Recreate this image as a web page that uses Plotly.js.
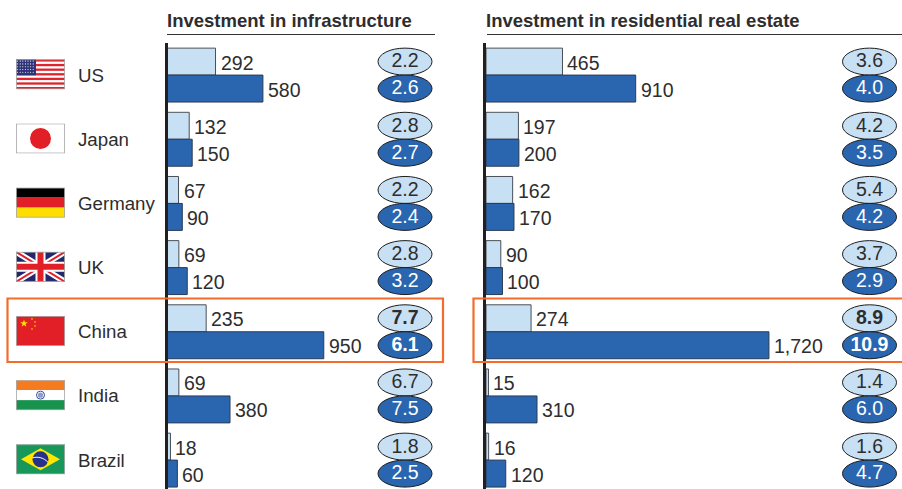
<!DOCTYPE html>
<html><head><meta charset="utf-8">
<script src="https://cdn.plot.ly/plotly-3.0.1.min.js"></script>
<style>html,body{margin:0;padding:0;background:#fff;overflow:hidden}</style></head>
<body><div id="chart" style="width:902px;height:489px"></div>
<script>
const countries = ['US','Japan','Germany','UK','China','India','Brazil'];
const infraStock = [292,132,67,69,235,69,18];
const infraNeed = [580,150,90,120,950,380,60];
const infraStockPct = ['2.2','2.8','2.2','2.8','7.7','6.7','1.8'];
const infraNeedPct = ['2.6','2.7','2.4','3.2','6.1','7.5','2.5'];
const homeStock = [465,197,162,90,274,15,16];
const homeNeed = [910,200,170,100,1720,310,120];
const homeStockPct = ['3.6','4.2','5.4','3.7','8.9','1.4','1.6'];
const homeNeedPct = ['4.0','3.5','4.2','2.9','10.9','6.0','4.7'];
const panelTitles = ['Investment in infrastructure','Investment in residential real estate'];

const W=902,H=489, LIGHT='#c8e0f4', DARK='#2a66b0', INK='#2e2d2e';
const FONT='"Liberation Sans", Arial, sans-serif';
const pxPerUnit=0.1645, topPx=43, rowPx=64.17;
const rows=countries.map((_,i)=>i);
const yRange=[(H-topPx)/rowPx-0.5,-0.5];
const OFF=0.21, TXT=1/rowPx;
const up=rows.map(r=>r-OFF), dn=rows.map(r=>r+OFF);
const hl=countries.indexOf('China');

function panel(xa,ya,light,dark,lp,dp,ovalX){
  const s={xaxis:xa,yaxis:ya};
  const bar=(vals,y,fill,line)=>({type:'bar',orientation:'h',x:vals,y:y,width:0.42,
    marker:{color:fill,line:{color:line,width:1}},hoverinfo:'skip',...s});
  const txt=(vals,y,col)=>({type:'scatter',mode:'text',x:vals.map(()=>ovalX),y:y.map(v=>v+TXT),
    text:vals.map((v,i)=>i===hl?'<b>'+v+'</b>':v),textposition:'middle center',
    textfont:{family:FONT,size:19.5,color:col},hoverinfo:'skip',cliponaxis:false,...s});
  return [bar(light,up,LIGHT,'#4a4f57'),bar(dark,dn,DARK,'#2c3a55'),txt(lp,up,INK),txt(dp,dn,'#ffffff')];
}
const oval1=237.5/pxPerUnit, oval2=383.5/pxPerUnit;
const traces=[...panel('x','y',infraStock,infraNeed,infraStockPct,infraNeedPct,oval1),
              ...panel('x2','y2',homeStock,homeNeed,homeStockPct,homeNeedPct,oval2)];

function ovals(xr,yr,cx){
  const out=[];
  rows.forEach(r=>{[[r-OFF,LIGHT],[r+OFF,DARK]].forEach(([y,c])=>{
    out.push({type:'circle',layer:'below',xref:xr,yref:yr,xsizemode:'pixel',ysizemode:'pixel',
      xanchor:cx,yanchor:y,x0:-27,x1:27,y0:-13.5,y1:13.5,fillcolor:c,line:{color:'#1d1d1f',width:1}});
  });});
  return out;
}
const rule=(x0,x1)=>({type:'line',xref:'paper',yref:'paper',x0:x0/W,x1:x1/W,y0:1-34.5/H,y1:1-34.5/H,line:{color:'#333',width:1}});
const box=(x0,x1)=>({type:'rect',xref:'paper',yref:'paper',x0:x0/W,x1:x1/W,y0:1-298.5/H,y1:1-362/H,line:{color:'#f26d2d',width:2.2},fillcolor:'rgba(0,0,0,0)',layer:'above'});
const shapes=[...ovals('x','y',oval1),...ovals('x2','y2',oval2),rule(167,435),rule(487,902),box(7.5,443),box(473.5,908)];

const barLabels=(vals,ys,xr,yr)=>vals.map((v,i)=>({text:v.toLocaleString('en-US'),xref:xr,yref:yr,x:v,y:ys[i],xanchor:'left',yanchor:'middle',
   xshift:3,yshift:-1,showarrow:false,font:{family:FONT,size:19.5,color:INK}}));
const annotations=[
 ...panelTitles.map((t,i)=>({text:'<b>'+t+'</b>',xref:'paper',yref:'paper',x:(i?483.5:164.5)/W,y:1-21/H,xanchor:'left',yanchor:'middle',showarrow:false,
   font:{family:FONT,size:18.5,color:INK}})),
 ...countries.map((c,i)=>({text:c,xref:'paper',yref:'y',x:76/W,y:i,xanchor:'left',yanchor:'middle',showarrow:false,
   font:{family:FONT,size:18.7,color:INK}})),
 ...barLabels(infraStock,up,'x','y'),...barLabels(infraNeed,dn,'x','y'),
 ...barLabels(homeStock,up,'x2','y2'),...barLabels(homeNeed,dn,'x2','y2')
];

const svg=(body)=>'data:image/svg+xml;charset=utf-8,'+encodeURIComponent('<svg xmlns="http://www.w3.org/2000/svg" width="196" height="120" viewBox="0 0 49 30">'+body+'<rect x="0.4" y="0.4" width="48.2" height="29.2" fill="none" stroke="#aaaaaa" stroke-width="0.9"/></svg>');
let usStripes='';for(let i=0;i<7;i++)usStripes+=`<rect x="0" y="${(i*2*30/13).toFixed(2)}" width="49" height="${(30/13).toFixed(2)}" fill="#e0242f"/>`;
let usStars='';for(let j=0;j<5;j++)for(let i=0;i<7;i++)usStars+=`<circle cx="${1.6+i*2.6}" cy="${1.8+j*2.8}" r="0.55" fill="#fff"/>`;
const star=(x,y,r)=>{let p=[];for(let k=0;k<10;k++){const a=-Math.PI/2+k*Math.PI/5,q=k%2?r*0.4:r;p.push((x+q*Math.cos(a)).toFixed(2)+','+(y+q*Math.sin(a)).toFixed(2));}return `<polygon points="${p.join(' ')}" fill="#ffde00"/>`;};
const flagArt={
 US:'<rect width="49" height="30" fill="#fff"/>'+usStripes+'<rect width="20" height="16" fill="#2e3278"/>'+usStars,
 Japan:'<rect width="49" height="30" fill="#fff"/><circle cx="24.5" cy="15" r="10.5" fill="#e21e26"/>',
 Germany:'<rect width="49" height="10" fill="#000"/><rect y="10" width="49" height="10" fill="#e21e26"/><rect y="20" width="49" height="10" fill="#ffdd00"/>',
 UK:'<rect width="49" height="30" fill="#23286e"/><path d="M0 0L49 30M49 0L0 30" stroke="#fff" stroke-width="6"/><path d="M0 0L49 30M49 0L0 30" stroke="#e21e26" stroke-width="2"/><path d="M24.5 0V30M0 15H49" stroke="#fff" stroke-width="10"/><path d="M24.5 0V30M0 15H49" stroke="#e21e26" stroke-width="6"/>',
 China:'<rect width="49" height="30" fill="#e21e26"/>'+star(8,7.5,4)+star(16,3,1.3)+star(19,6,1.3)+star(19,10,1.3)+star(16,13,1.3),
 India:'<rect width="49" height="10" fill="#f47b20"/><rect y="10" width="49" height="10" fill="#fff"/><rect y="20" width="49" height="10" fill="#17934e"/><circle cx="24.5" cy="15" r="4" fill="#fff" stroke="#3a4f9c" stroke-width="1"/><circle cx="24.5" cy="15" r="2.6" fill="#8f9ccb"/>',
 Brazil:'<rect width="49" height="30" fill="#18975a"/><polygon points="24.5,4 44,15 24.5,26 5,15" fill="#ffe600"/><circle cx="24.5" cy="15" r="8" fill="#25318a"/><path d="M16.8 13.5C22 12 28 13.5 32 18" stroke="#fff" stroke-width="1" fill="none"/>'
};
const images=countries.map((c,i)=>({source:svg(flagArt[c]),xref:'paper',yref:'y',x:16/W,y:i-0.8/rowPx,sizex:49/W,sizey:30/rowPx,xanchor:'left',yanchor:'middle',sizing:'stretch',layer:'above'}));

const x1=[167.5/W,436/W], x2=[486/W,902/W];
const yAxis=(anchor)=>({domain:[0,1-topPx/H],range:yRange,showgrid:false,zeroline:false,showticklabels:false,ticks:'',showline:true,linecolor:'#231f20',linewidth:3,anchor:anchor,fixedrange:true});
const xAxis=(dom,anchor)=>({domain:dom,range:[0,(dom[1]-dom[0])*W/pxPerUnit],showgrid:false,zeroline:false,showticklabels:false,ticks:'',showline:false,anchor:anchor,fixedrange:true});
const layout={width:W,height:H,margin:{l:0,r:0,t:0,b:0},paper_bgcolor:'#fff',plot_bgcolor:'rgba(0,0,0,0)',showlegend:false,barmode:'overlay',
  font:{family:FONT},xaxis:xAxis(x1,'y'),yaxis:yAxis('x'),xaxis2:xAxis(x2,'y2'),yaxis2:yAxis('x2'),shapes,annotations,images};
Plotly.newPlot('chart',traces,layout,{staticPlot:true,displayModeBar:false});
</script></body></html>
